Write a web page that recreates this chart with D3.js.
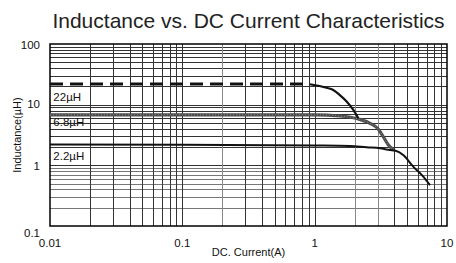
<!DOCTYPE html>
<html>
<head>
<meta charset="utf-8">
<script src="https://cdn.jsdelivr.net/npm/d3@7"></script>
<style>
  html, body { margin: 0; padding: 0; background: #fff; }
  svg { display: block; font-family: "Liberation Sans", Arial, sans-serif; }
</style>
</head>
<body>
<svg id="chart" width="456" height="263"></svg>
<script>
// ---- data ----
const title = "Inductance vs. DC Current Characteristics";
const xLabel = "DC. Current(A)";
const yLabel = "Inductance(\u00b5H)";
const xTicks = [0.01, 0.1, 1, 10];
const xTickLabels = ["0.01", "0.1", "1", "10"];
const yTicks = [0.1, 1, 10, 100];
const yTickLabels = ["0.1", "1", "10", "100"];

// 22uH: flat (dashed) part, then roll-off (solid)
const current22Flat = [0.01, 0.1, 0.5, 0.92];
const value22Flat = [22, 22, 22, 22];
const current22Drop = [0.92, 1.23, 1.38, 1.55, 1.75, 1.96, 2.14];
const value22Drop = [21.7, 19.0, 17.5, 14.4, 11.2, 8.2, 5.96];

// 6.8uH
const current68 = [0.01, 0.1, 1.0, 1.55, 2.14, 2.62, 3.03, 3.30, 3.61, 3.93];
const value68 = [6.8, 6.8, 6.8, 6.5, 5.8, 4.93, 3.93, 2.96, 2.16, 1.79];

// 2.2uH
const current22u = [0.01, 0.1, 1.0, 1.85, 2.47, 3.12, 3.71, 4.04, 4.67, 5.56, 6.62, 7.44];
const value22u = [2.2, 2.18, 2.12, 2.08, 1.98, 1.91, 1.79, 1.75, 1.48, 0.95, 0.65, 0.47];

const seriesLabels = ["22\u00b5H", "6.8\u00b5H", "2.2\u00b5H"];
const seriesLabelValues = [13.5, 5.2, 1.4];

// ---- layout ----
const W = 456, H = 263;
const m = { left: 50, right: 9, top: 44, bottom: 37 };
const svg = d3.select("#chart");

const x = d3.scaleLog().domain([0.01, 10]).range([m.left, W - m.right]);
const y = d3.scaleLog().domain([0.1, 100]).range([H - m.bottom, m.top]);

// grid values
const xGrid = [];
[0.01, 0.1, 1].forEach(d => { for (let k = 2; k <= 9; k++) xGrid.push(k * d); });
const yGrid = [];
[0.1, 1, 10].forEach(d => { for (let k = 2; k <= 9; k++) yGrid.push(k * d); });

const g = svg.append("g");

// horizontal grid
g.append("g").selectAll("line").data(yGrid.concat([1, 10])).join("line")
  .attr("x1", m.left).attr("x2", W - m.right)
  .attr("y1", d => Math.round(y(d)) + 0.5).attr("y2", d => Math.round(y(d)) + 0.5)
  .attr("stroke", d => (d < 1 ? "#777" : "#333"))
  .attr("stroke-width", 1);

// vertical grid
g.append("g").selectAll("line").data(xGrid.concat([0.1, 1])).join("line")
  .attr("y1", m.top).attr("y2", H - m.bottom)
  .attr("x1", d => Math.round(x(d)) + 0.5).attr("x2", d => Math.round(x(d)) + 0.5)
  .attr("stroke", d => ((d >= 2 && d <= 3) || (d >= 0.15 && d <= 0.2) ? "#888" : "#333"))
  .attr("stroke-width", 1);

// frame
g.append("rect")
  .attr("x", m.left).attr("y", m.top)
  .attr("width", W - m.left - m.right).attr("height", H - m.top - m.bottom)
  .attr("fill", "none").attr("stroke", "#000").attr("stroke-width", 1.5);

// clip
svg.append("clipPath").attr("id", "clip").append("rect")
  .attr("x", m.left).attr("y", m.top)
  .attr("width", W - m.left - m.right).attr("height", H - m.top - m.bottom);

const line = d3.line().x(d => x(d[0])).y(d => y(d[1])).curve(d3.curveMonotoneX);
const curves = svg.append("g").attr("clip-path", "url(#clip)");

// 6.8uH
curves.append("path")
  .attr("d", line(d3.zip(current68, value68)))
  .attr("fill", "none").attr("stroke", "#4d4d4d").attr("stroke-width", 3.2);
curves.append("path")
  .attr("d", line(d3.zip(current68, value68)))
  .attr("fill", "none").attr("stroke", "#8a8a8a").attr("stroke-width", 1)
  .attr("stroke-dasharray", "1 2");

// 2.2uH
curves.append("path")
  .attr("d", line(d3.zip(current22u, value22u)))
  .attr("fill", "none").attr("stroke", "#111").attr("stroke-width", 2);

// 22uH dashed
curves.append("path")
  .attr("d", line(d3.zip(current22Flat, value22Flat)))
  .attr("fill", "none").attr("stroke", "#111").attr("stroke-width", 3)
  .attr("stroke-dasharray", "13 7");
curves.append("path")
  .attr("d", line(d3.zip(current22Drop, value22Drop)))
  .attr("fill", "none").attr("stroke", "#111").attr("stroke-width", 2.2);

// series labels
svg.append("g").selectAll("text").data(seriesLabels).join("text")
  .attr("x", x(0.0106))
  .attr("y", (d, i) => y(seriesLabelValues[i]))
  .attr("dy", "0.35em")
  .attr("font-size", 11.5).attr("fill", "#111")
  .text(d => d);

// title
svg.append("text")
  .attr("x", (m.left + W - m.right) / 2).attr("y", 28)
  .attr("text-anchor", "middle").attr("font-size", 21).attr("fill", "#222")
  .text(title);

// x tick labels
svg.append("g").selectAll("text").data(xTicks).join("text")
  .attr("x", d => x(d)).attr("y", H - m.bottom + 17)
  .attr("dy", "0.35em")
  .attr("text-anchor", "middle").attr("font-size", 11.5).attr("fill", "#111")
  .text((d, i) => xTickLabels[i]);

// y tick labels
svg.append("g").selectAll("text").data(yTicks).join("text")
  .attr("x", m.left - 10)
  .attr("y", d => y(d) + (d === 0.1 ? 7 : (d === 10 ? -1 : 1)))
  .attr("dy", "0.35em")
  .attr("text-anchor", "end").attr("font-size", 11.5).attr("fill", "#111")
  .text((d, i) => yTickLabels[i]);

// axis titles
svg.append("text")
  .attr("x", (m.left + W - m.right) / 2).attr("y", H - 7)
  .attr("text-anchor", "middle").attr("font-size", 11).attr("fill", "#111")
  .text(xLabel);

svg.append("text")
  .attr("transform", `translate(21, ${(m.top + H - m.bottom) / 2}) rotate(-90)`)
  .attr("text-anchor", "middle").attr("font-size", 11).attr("fill", "#111")
  .text(yLabel);
</script>
</body>
</html>
